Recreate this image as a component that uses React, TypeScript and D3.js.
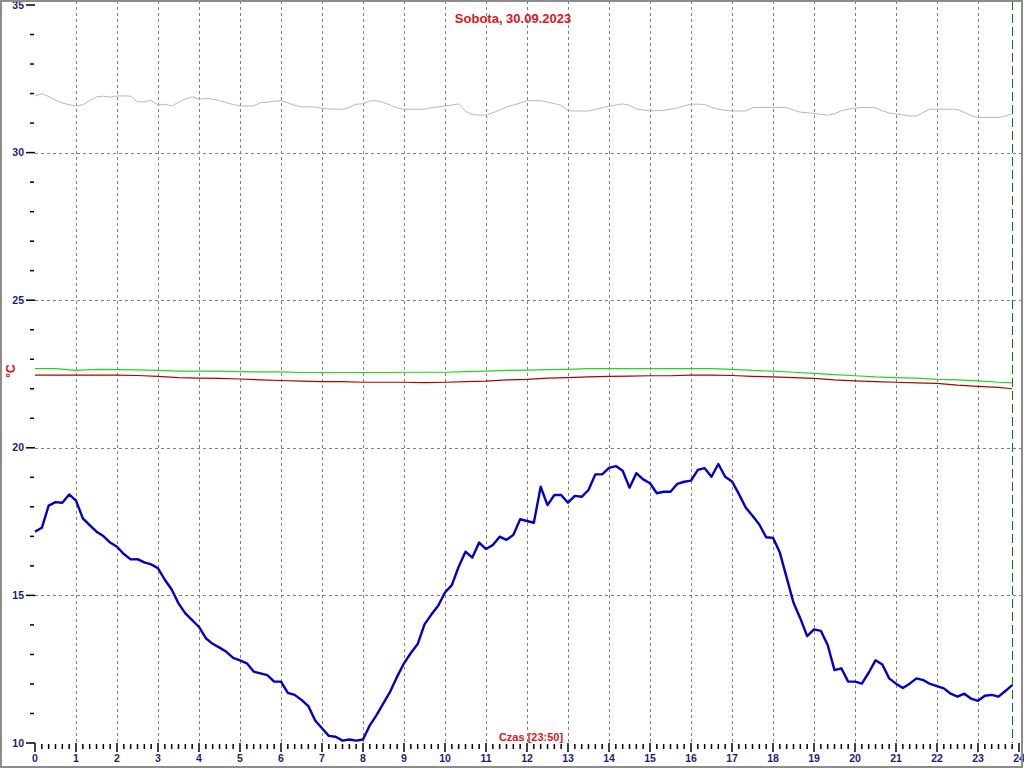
import * as d3 from 'd3';

const W = 1024;
const H = 768;
const MARGIN = { top: 5, right: 5, bottom: 25, left: 35 };

const title = 'Sobota, 30.09.2023';
const timeLabel = 'Czas [23:50]';
const nowHour = 23 + 50 / 60;

// outdoor temperature, every 10 minutes from 00:00 to 23:50
const outdoor = [
    17.16, 17.29, 18.04, 18.16, 18.14, 18.42, 18.21, 17.61, 17.38, 17.16, 17.01, 16.79,
    16.65, 16.4, 16.22, 16.23, 16.12, 16.05, 15.92, 15.53, 15.2, 14.73, 14.39, 14.16,
    13.93, 13.55, 13.36, 13.23, 13.09, 12.88, 12.8, 12.7, 12.42, 12.36, 12.3, 12.08,
    12.08, 11.7, 11.63, 11.46, 11.25, 10.76, 10.5, 10.24, 10.21, 10.08, 10.12, 10.08,
    10.12, 10.6, 10.95, 11.35, 11.75, 12.25, 12.7, 13.05, 13.35, 14.02, 14.35, 14.65,
    15.1, 15.35, 15.97, 16.48, 16.28, 16.79, 16.57, 16.71, 16.99, 16.88, 17.05, 17.58,
    17.52, 17.46, 18.68, 18.06, 18.4, 18.4, 18.14, 18.37, 18.34, 18.57, 19.1, 19.1,
    19.32, 19.38, 19.22, 18.65, 19.14, 18.93, 18.8, 18.46, 18.51, 18.51, 18.78, 18.85,
    18.89, 19.25, 19.31, 19.02, 19.45, 19.02, 18.86, 18.44, 17.98, 17.7, 17.4, 16.97,
    16.95, 16.45, 15.6, 14.75, 14.22, 13.62, 13.85, 13.8, 13.32, 12.47, 12.53, 12.08,
    12.08, 12.01, 12.38, 12.8, 12.66, 12.19, 12.01, 11.86, 12.01, 12.19, 12.13, 12.0,
    11.93, 11.85, 11.67, 11.57, 11.67, 11.5, 11.43, 11.6, 11.63, 11.57, 11.76, 11.96,
];

// grey series, every 10 minutes
const grey = [
    31.92, 32.0, 31.9, 31.78, 31.68, 31.62, 31.58, 31.62, 31.76, 31.89, 31.91, 31.88,
    31.92, 31.92, 31.91, 31.72, 31.72, 31.77, 31.61, 31.64, 31.58, 31.7, 31.82, 31.89,
    31.8, 31.84, 31.81, 31.76, 31.69, 31.63, 31.58, 31.58, 31.58, 31.69, 31.71, 31.74,
    31.76, 31.69, 31.6, 31.55, 31.55, 31.54, 31.5, 31.48, 31.47, 31.47, 31.53, 31.64,
    31.65, 31.75, 31.76, 31.7, 31.61, 31.51, 31.47, 31.47, 31.47, 31.47, 31.52, 31.55,
    31.58, 31.61, 31.65, 31.4, 31.29, 31.27, 31.27, 31.35, 31.44, 31.55, 31.61, 31.68,
    31.76, 31.76, 31.76, 31.71, 31.66, 31.6, 31.42, 31.41, 31.41, 31.41, 31.46, 31.52,
    31.57, 31.61, 31.65, 31.6, 31.48, 31.44, 31.41, 31.42, 31.43, 31.47, 31.51, 31.58,
    31.64, 31.64, 31.63, 31.53, 31.47, 31.43, 31.41, 31.41, 31.41, 31.52, 31.53, 31.53,
    31.53, 31.53, 31.53, 31.44, 31.37, 31.35, 31.33, 31.29, 31.27, 31.31, 31.42, 31.47,
    31.51, 31.53, 31.53, 31.52, 31.42, 31.34, 31.31, 31.28, 31.24, 31.24, 31.36, 31.47,
    31.47, 31.47, 31.47, 31.46, 31.36, 31.25, 31.19, 31.19, 31.19, 31.19, 31.24, 31.31,
];

// indoor series, every 30 minutes plus the last reading at 23:50
const halfHours = [...d3.range(0, 24, 0.5), nowHour];
const green = [
    22.68, 22.68, 22.62, 22.66, 22.65, 22.64, 22.62, 22.6, 22.6, 22.6, 22.58, 22.57,
    22.57, 22.55, 22.55, 22.55, 22.55, 22.55, 22.56, 22.56, 22.56, 22.58, 22.6, 22.62,
    22.63, 22.65, 22.66, 22.68, 22.68, 22.68, 22.68, 22.68, 22.68, 22.68, 22.66, 22.62,
    22.6, 22.56, 22.52, 22.48, 22.44, 22.4, 22.38, 22.36, 22.32, 22.3, 22.27, 22.22, 22.2,
];
const red = [
    22.46, 22.46, 22.46, 22.46, 22.46, 22.45, 22.42, 22.38, 22.36, 22.35, 22.33, 22.3,
    22.28, 22.26, 22.24, 22.24, 22.22, 22.22, 22.22, 22.21, 22.22, 22.24, 22.26, 22.3,
    22.32, 22.36, 22.38, 22.4, 22.42, 22.43, 22.44, 22.44, 22.46, 22.46, 22.45, 22.42,
    22.4, 22.38, 22.35, 22.3, 22.27, 22.24, 22.22, 22.2, 22.18, 22.12, 22.08, 22.05, 22.0,
];

const hourTicks = d3.range(0, 25);
const tempTicks = d3.range(10, 36, 5);

const LABEL_COLOR = '#1c1c78';
const GRID_COLOR = '#808080';

export default function App() {
    const x = d3.scaleLinear().domain([0, 24]).range([MARGIN.left, W - MARGIN.right]);
    const y = d3.scaleLinear().domain([10, 35]).range([H - MARGIN.bottom, MARGIN.top]);
    const bottom = y(10);

    const tenMin = (i: number) => i / 6;
    const line10 = d3.line<number>().x((_, i) => x(tenMin(i))).y(d => y(d));
    const lineHalf = d3.line<number>().x((_, i) => x(halfHours[i])).y(d => y(d));

    const minorX = d3.range(0, 24 * 6 + 1).filter(i => i % 6 !== 0).map(i => i / 6);
    const minorY = d3.range(11, 35).filter(v => v % 5 !== 0);

    return (
        <svg width={W} height={H} style={{ position: 'absolute', left: 0, top: 0, background: '#fff' }}
            fontFamily="'Liberation Sans', Arial, sans-serif">
            {/* grid */}
            {hourTicks.filter(h => h > 0 && h < 24).map(h => (
                <line key={'vg' + h} x1={Math.round(x(h)) + 0.5} x2={Math.round(x(h)) + 0.5} y1={1} y2={bottom}
                    stroke={GRID_COLOR} strokeDasharray="3,3" />
            ))}
            {tempTicks.filter(v => v > 10 && v < 35).map(v => (
                <line key={'hg' + v} x1={x(0)} x2={W - 3} y1={Math.round(y(v)) + 0.5} y2={Math.round(y(v)) + 0.5}
                    stroke={GRID_COLOR} strokeDasharray="3,3" />
            ))}

            {/* current time marker */}
            <line x1={Math.round(x(nowHour)) + 0.5} x2={Math.round(x(nowHour)) + 0.5} y1={1} y2={bottom}
                stroke="#0a7a0a" strokeDasharray="9,4" />

            {/* y axis ticks */}
            {tempTicks.map(v => (
                <g key={'yt' + v}>
                    <line x1={26} x2={x(0)} y1={y(v)} y2={y(v)} stroke="#000" strokeWidth={1.5} />
                    <text x={24} y={y(v)} dy="0.35em" textAnchor="end" fontSize={10.5} fontWeight="bold"
                        fill={LABEL_COLOR}>{v}</text>
                </g>
            ))}
            {minorY.map(v => (
                <line key={'ym' + v} x1={30} x2={34} y1={y(v)} y2={y(v)} stroke="#000" strokeWidth={1.5} />
            ))}

            {/* x axis ticks */}
            {hourTicks.map(h => (
                <g key={'xt' + h}>
                    <line x1={x(h)} x2={x(h)} y1={bottom} y2={bottom + 9} stroke="#000" strokeWidth={1.5} />
                    <text x={x(h)} y={bottom + 19} textAnchor="middle" fontSize={10.5} fontWeight="bold"
                        fill={LABEL_COLOR}>{h}</text>
                </g>
            ))}
            {minorX.map(h => (
                <line key={'xm' + h} x1={x(h)} x2={x(h)} y1={bottom + 1} y2={bottom + 6} stroke="#000"
                    strokeWidth={1.5} />
            ))}

            {/* series */}
            <path d={line10(grey) ?? ''} fill="none" stroke="#b8b8b8" strokeWidth={1} />
            <path d={lineHalf(green) ?? ''} fill="none" stroke="#1ed81e" strokeWidth={1.2} />
            <path d={lineHalf(red) ?? ''} fill="none" stroke="#b00000" strokeWidth={1.2} />
            <path d={line10(outdoor) ?? ''} fill="none" stroke="#0000c8" strokeWidth={2.4} strokeLinejoin="round" />

            {/* texts */}
            <text x={513} y={23} textAnchor="middle" fontSize={13} fontWeight="bold" fill="#e0141c">{title}</text>
            <text x={531} y={741} textAnchor="middle" fontSize={11} fontWeight="bold" fill="#e0141c">{timeLabel}</text>
            <text transform={`translate(15, ${y(22.6)}) rotate(-90)`} textAnchor="middle" fontSize={12}
                fontWeight="bold" fill="#d01010">°C</text>

            {/* frame */}
            <rect x={1} y={1} width={W - 3} height={H - 2} fill="none" stroke="#8c8c8c" strokeWidth={2} />
        </svg>
    );
}
